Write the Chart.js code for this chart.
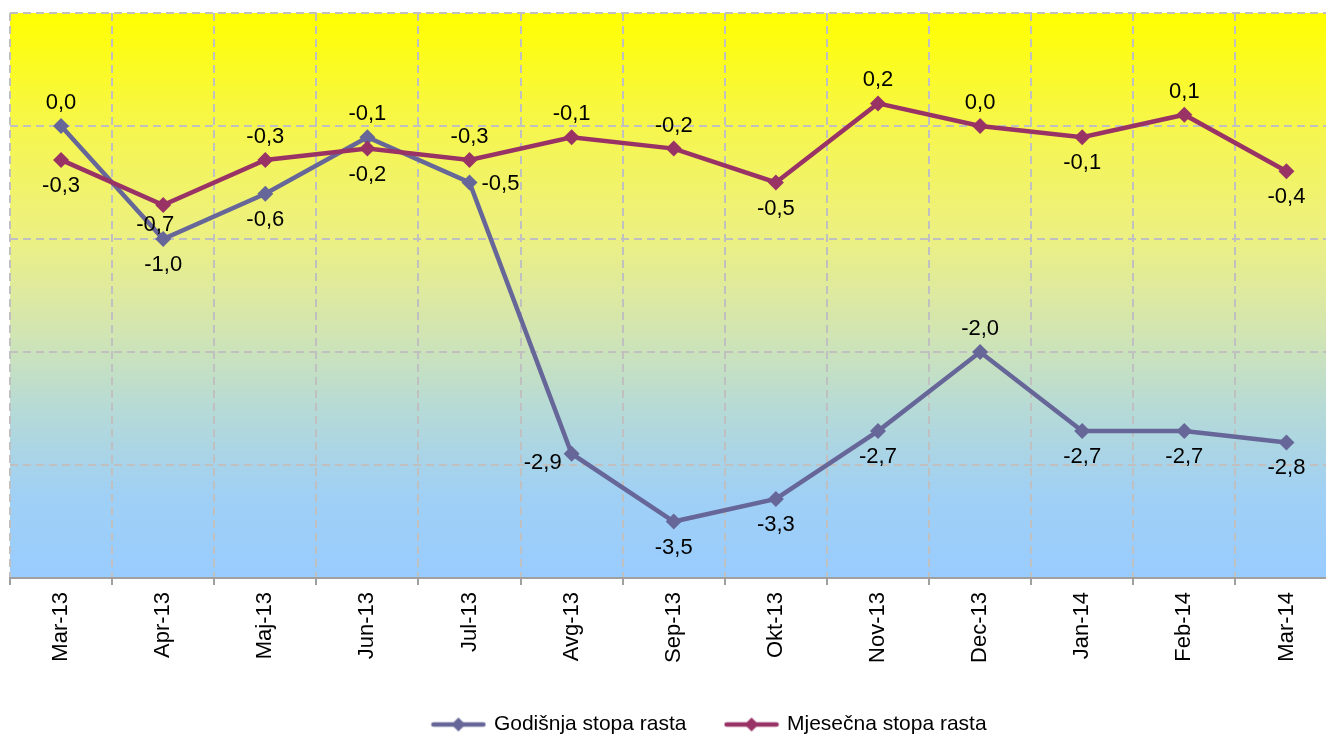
<!DOCTYPE html>
<html>
<head>
<meta charset="utf-8">
<script src="https://cdn.jsdelivr.net/npm/chart.js@4"></script>
<style>
  html, body { margin: 0; padding: 0; background: #fff; overflow: hidden; }
  #wrap { position: absolute; left: 0; top: 0; }
</style>
</head>
<body>
<div id="wrap"><canvas id="chart" width="1410" height="745"></canvas></div>
<script>
const months = ['Mar-13', 'Apr-13', 'Maj-13', 'Jun-13', 'Jul-13', 'Avg-13', 'Sep-13',
                'Okt-13', 'Nov-13', 'Dec-13', 'Jan-14', 'Feb-14', 'Mar-14'];
const godisnja = [0.0, -1.0, -0.6, -0.1, -0.5, -2.9, -3.5, -3.3, -2.7, -2.0, -2.7, -2.7, -2.8];
const mjesecna = [-0.3, -0.7, -0.3, -0.2, -0.3, -0.1, -0.2, -0.5, 0.2, 0.0, -0.1, 0.1, -0.4];
const yMin = -4, yMax = 1, yStep = 1;

// where each value label sits relative to its point
const godisnjaPos = ['top', 'bottom', 'bottom', 'top', 'right', 'left', 'bottom',
                     'bottom', 'bottom', 'top', 'bottom', 'bottom', 'bottom'];
const mjesecnaPos = ['bottom', 'bottomLeft', 'top', 'bottom', 'top', 'top', 'top',
                     'bottom', 'top', 'top', 'bottom', 'top', 'bottom'];

const FONT = '"Liberation Sans", Arial, sans-serif';

function legendMarker(color) {
    const c = document.createElement('canvas');
    c.width = 56;
    c.height = 18;
    const g = c.getContext('2d');
    g.strokeStyle = color;
    g.lineWidth = 4.5;
    g.lineCap = 'round';
    g.beginPath();
    g.moveTo(3, 9);
    g.lineTo(53, 9);
    g.stroke();
    g.fillStyle = color;
    g.beginPath();
    g.moveTo(28, 2);
    g.lineTo(35, 9);
    g.lineTo(28, 16);
    g.lineTo(21, 9);
    g.closePath();
    g.fill();
    return c;
}

// gradient fill behind the plot area
const plotBackground = {
    id: 'plotBackground',
    beforeDraw(chart) {
        const { ctx, chartArea: a } = chart;
        const grad = ctx.createLinearGradient(0, a.top, 0, a.bottom);
        grad.addColorStop(0, '#FFFF00');
        grad.addColorStop(0.2, '#F6F64C');
        grad.addColorStop(0.4, '#ECF083');
        grad.addColorStop(0.55, '#D5E6AE');
        grad.addColorStop(0.7, '#B6DAD6');
        grad.addColorStop(0.85, '#A0D0F4');
        grad.addColorStop(1, '#99CCFF');
        ctx.save();
        ctx.fillStyle = grad;
        ctx.fillRect(a.left, a.top, a.right - a.left, a.bottom - a.top);
        ctx.restore();
    }
};

// value labels next to the points
const valueLabels = {
    id: 'valueLabels',
    afterDatasetsDraw(chart) {
        const ctx = chart.ctx;
        ctx.save();
        ctx.font = '22px ' + FONT;
        ctx.fillStyle = '#000';
        ctx.textBaseline = 'middle';
        chart.data.datasets.forEach((ds, di) => {
            const meta = chart.getDatasetMeta(di);
            meta.data.forEach((pt, i) => {
                const txt = ds.data[i].toFixed(1).replace('.', ',');
                const pos = ds.labelPos[i];
                let x = pt.x, y = pt.y;
                ctx.textAlign = 'center';
                if (pos === 'top') {
                    y -= 23;
                } else if (pos === 'bottom') {
                    y += 26;
                } else if (pos === 'bottomLeft') {
                    x -= 8;
                    y += 20;
                } else if (pos === 'right') {
                    ctx.textAlign = 'left';
                    x += 12;
                    y += 1;
                } else if (pos === 'left') {
                    ctx.textAlign = 'right';
                    x -= 10;
                    y += 9;
                }
                ctx.fillText(txt, x, y);
            });
        });
        ctx.restore();
    }
};

new Chart(document.getElementById('chart'), {
    type: 'line',
    data: {
        labels: months,
        datasets: [
            {
                label: 'Godišnja stopa rasta',
                data: godisnja,
                labelPos: godisnjaPos,
                borderColor: '#666699',
                backgroundColor: '#666699',
                borderWidth: 4.5,
                tension: 0,
                pointStyle: 'rectRot',
                pointRadius: 8,
                pointBorderWidth: 0,
                pointBackgroundColor: '#666699',
                order: 1
            },
            {
                label: 'Mjesečna stopa rasta',
                data: mjesecna,
                labelPos: mjesecnaPos,
                borderColor: '#993366',
                backgroundColor: '#993366',
                borderWidth: 4.5,
                tension: 0,
                pointStyle: 'rectRot',
                pointRadius: 8,
                pointBorderWidth: 0,
                pointBackgroundColor: '#993366',
                order: 0
            }
        ]
    },
    options: {
        responsive: false,
        animation: false,
        layout: { padding: { top: 13, left: 10, right: 0, bottom: 0 } },
        scales: {
            x: {
                offset: true,
                grid: {
                    offset: true,
                    color: '#C0C0C0',
                    lineWidth: 2,
                    tickLength: 7,
                    tickColor: '#A0A0A0'
                },
                border: { display: true, color: '#A0A0A0', width: 2, dash: [8, 5] },
                ticks: {
                    autoSkip: false,
                    maxRotation: 90,
                    minRotation: 90,
                    padding: 7,
                    color: '#000',
                    font: { size: 22, family: FONT }
                },
                afterFit(scale) { scale.height = 96; }
            },
            y: {
                position: 'right',
                min: yMin,
                max: yMax,
                ticks: { display: false, stepSize: yStep },
                grid: { drawTicks: false, color: '#C0C0C0', lineWidth: 2 },
                border: { display: false, dash: [8, 5] },
                afterFit(scale) { scale.width = 72.5; }
            }
        },
        plugins: {
            legend: {
                position: 'bottom',
                labels: {
                    usePointStyle: true,
                    pointStyleWidth: 50,
                    padding: 40,
                    color: '#000',
                    font: { size: 21, family: FONT },
                    generateLabels(chart) {
                        return chart.data.datasets.map((ds, i) => ({
                            text: ds.label,
                            pointStyle: legendMarker(ds.borderColor),
                            fillStyle: ds.borderColor,
                            strokeStyle: ds.borderColor,
                            lineWidth: 0,
                            hidden: false,
                            datasetIndex: i
                        }));
                    }
                }
            },
            tooltip: { enabled: false }
        }
    },
    plugins: [plotBackground, valueLabels]
});
</script>
</body>
</html>
